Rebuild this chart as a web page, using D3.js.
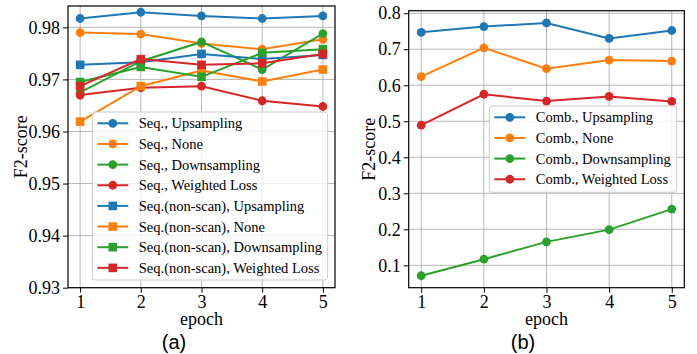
<!DOCTYPE html>
<html>
<head>
<meta charset="utf-8">
<script src="https://cdn.jsdelivr.net/npm/d3@7"></script>
<style>
  body { margin: 0; background: #fff; }
  svg { display: block; }
</style>
</head>
<body>
<div id="chart"></div>
<script>
const epochs = [1, 2, 3, 4, 5];

// panel (a)
const seqUpsampling = [0.9817, 0.9829, 0.9822, 0.9817, 0.9822];
const seqNone = [0.9790, 0.9787, 0.9769, 0.9758, 0.9777];
const seqDownsampling = [0.9675, 0.9735, 0.9772, 0.9719, 0.9788];
const seqWeighted = [0.9670, 0.9684, 0.9687, 0.9659, 0.9648];
const nsUpsampling = [0.9728, 0.9733, 0.9749, 0.9739, 0.9747];
const nsNone = [0.9619, 0.9687, 0.9717, 0.9696, 0.9719];
const nsDownsampling = [0.9695, 0.9724, 0.9705, 0.9751, 0.9758];
const nsWeighted = [0.9687, 0.9739, 0.9728, 0.9731, 0.9749];
const seqLabels = ['Seq., Upsampling', 'Seq., None', 'Seq., Downsampling', 'Seq., Weighted Loss',
  'Seq.(non-scan), Upsampling', 'Seq.(non-scan), None', 'Seq.(non-scan), Downsampling', 'Seq.(non-scan), Weighted Loss'];
const seqTicks = [0.93, 0.94, 0.95, 0.96, 0.97, 0.98];

// panel (b)
const combUpsampling = [0.747, 0.763, 0.773, 0.730, 0.752];
const combNone = [0.624, 0.704, 0.646, 0.670, 0.667];
const combDownsampling = [0.071, 0.117, 0.165, 0.199, 0.256];
const combWeighted = [0.489, 0.575, 0.556, 0.569, 0.555];
const combLabels = ['Comb., Upsampling', 'Comb., None', 'Comb., Downsampling', 'Comb., Weighted Loss'];
const combTicks = [0.1, 0.2, 0.3, 0.4, 0.5, 0.6, 0.7, 0.8];

const colors = ['#1f77b4', '#ff7f0e', '#2ca02c', '#d62728'];
const serif = '"Liberation Serif", "Times New Roman", serif';

const svg = d3.select('#chart').append('svg')
  .attr('width', 697)
  .attr('height', 354);

function drawPanel(p) {
  const x = d3.scaleLinear().domain([0.8, 5.2]).range([p.left, p.right]);
  const y = d3.scaleLinear().domain(p.yDomain).range([p.bottom, p.top]);
  const g = svg.append('g');

  // grid
  g.selectAll('.gx').data(epochs).enter().append('line')
    .attr('x1', d => x(d)).attr('x2', d => x(d))
    .attr('y1', p.top).attr('y2', p.bottom)
    .attr('stroke', '#b0b0b0').attr('stroke-width', 0.9);
  g.selectAll('.gy').data(p.ticks).enter().append('line')
    .attr('x1', p.left).attr('x2', p.right)
    .attr('y1', d => y(d)).attr('y2', d => y(d))
    .attr('stroke', '#b0b0b0').attr('stroke-width', 0.9);

  // series
  const line = d3.line().x((d, i) => x(epochs[i])).y(d => y(d));
  p.series.forEach((s, i) => {
    const c = colors[i % 4];
    g.append('path')
      .attr('d', line(s))
      .attr('fill', 'none')
      .attr('stroke', c)
      .attr('stroke-width', 2);
    if (p.square && i >= 4) {
      g.selectAll(null).data(s).enter().append('rect')
        .attr('x', (d, j) => x(epochs[j]) - 4.3)
        .attr('y', d => y(d) - 4.3)
        .attr('width', 8.6).attr('height', 8.6)
        .attr('fill', c);
    } else {
      g.selectAll(null).data(s).enter().append('circle')
        .attr('cx', (d, j) => x(epochs[j]))
        .attr('cy', d => y(d))
        .attr('r', 4.4)
        .attr('fill', c);
    }
  });

  // frame
  g.append('rect')
    .attr('x', p.left).attr('y', p.top)
    .attr('width', p.right - p.left).attr('height', p.bottom - p.top)
    .attr('fill', 'none').attr('stroke', '#000').attr('stroke-width', 1.2);

  // axes
  const xAxis = d3.axisBottom(x).tickValues(epochs).tickSize(5).tickPadding(3).tickFormat(d3.format('d'));
  const yAxis = d3.axisLeft(y).tickValues(p.ticks).tickSize(5).tickPadding(3).tickFormat(d3.format(p.fmt));
  const ax = g.append('g').attr('transform', 'translate(0,' + p.bottom + ')').call(xAxis);
  const ay = g.append('g').attr('transform', 'translate(' + p.left + ',0)').call(yAxis);
  [ax, ay].forEach(a => {
    a.select('.domain').remove();
    a.selectAll('line').attr('stroke', '#000').attr('stroke-width', 1);
    a.selectAll('text').attr('font-family', serif).attr('font-size', 18).attr('fill', '#000');
  });

  g.append('text')
    .attr('x', (p.left + p.right) / 2).attr('y', 325)
    .attr('text-anchor', 'middle')
    .attr('font-family', serif).attr('font-size', 18)
    .text('epoch');
  g.append('text')
    .attr('transform', 'translate(' + p.yLabelX + ',' + (p.top + p.bottom) / 2 + ') rotate(-90)')
    .attr('text-anchor', 'middle')
    .attr('font-family', serif).attr('font-size', 18)
    .text('F2-score');
  g.append('text')
    .attr('x', p.capX).attr('y', 349)
    .attr('text-anchor', 'middle')
    .attr('font-family', '"Liberation Sans", Arial, sans-serif').attr('font-size', 20)
    .text(p.caption);

  // legend
  const lg = g.append('g');
  lg.append('rect')
    .attr('x', p.legend.x).attr('y', p.legend.y)
    .attr('width', p.legend.w).attr('height', p.legend.h)
    .attr('rx', 3)
    .attr('fill', '#fff').attr('fill-opacity', 0.8)
    .attr('stroke', '#cccccc').attr('stroke-width', 1);
  p.labels.forEach((lab, i) => {
    const cy = p.legend.y + 11.3 + i * 20.65;
    const hx = p.legend.x + 5;
    const c = colors[i % 4];
    lg.append('line')
      .attr('x1', hx).attr('x2', hx + 31)
      .attr('y1', cy).attr('y2', cy)
      .attr('stroke', c).attr('stroke-width', 2);
    if (p.square && i >= 4) {
      lg.append('rect')
        .attr('x', hx + 15.5 - 4.3).attr('y', cy - 4.3)
        .attr('width', 8.6).attr('height', 8.6).attr('fill', c);
    } else {
      lg.append('circle').attr('cx', hx + 15.5).attr('cy', cy).attr('r', 4.4).attr('fill', c);
    }
    lg.append('text')
      .attr('x', hx + 41.5).attr('y', cy)
      .attr('dy', '0.35em')
      .attr('font-family', serif).attr('font-size', 14.5)
      .text(lab);
  });
}

drawPanel({
  left: 68, right: 335, top: 6, bottom: 287.7,
  yDomain: [0.93, 0.9841],
  ticks: seqTicks, fmt: '.2f',
  series: [seqUpsampling, seqNone, seqDownsampling, seqWeighted,
    nsUpsampling, nsNone, nsDownsampling, nsWeighted],
  square: true,
  labels: seqLabels,
  legend: { x: 92.3, y: 112, w: 235.4, h: 168 },
  yLabelX: 27, capX: 174, caption: '(a)'
});

drawPanel({
  left: 408.7, right: 684.3, top: 10.7, bottom: 287.7,
  yDomain: [0.0378, 0.807],
  ticks: combTicks, fmt: '.1f',
  series: [combUpsampling, combNone, combDownsampling, combWeighted],
  square: false,
  labels: combLabels,
  legend: { x: 489.3, y: 106, w: 187.4, h: 86.3 },
  yLabelX: 375, capX: 523, caption: '(b)'
});
</script>
</body>
</html>
